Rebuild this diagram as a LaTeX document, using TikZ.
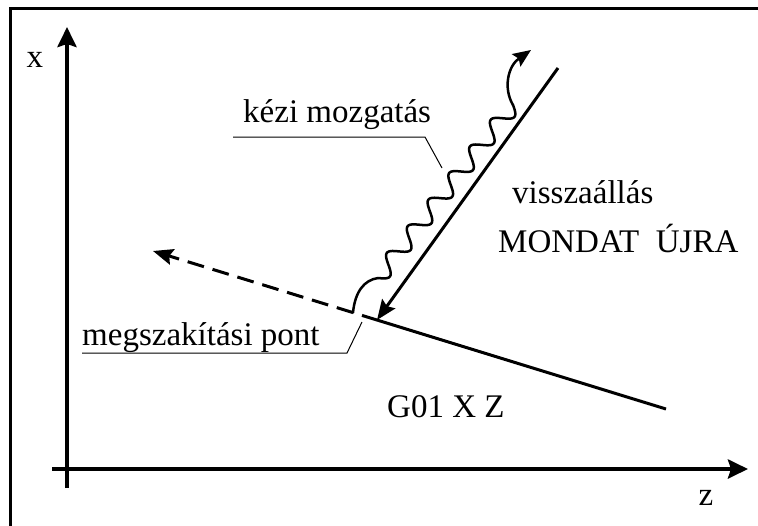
\documentclass[tikz,border=0pt]{standalone}
\usepackage{fontspec}
\setmainfont{Liberation Serif}
\usetikzlibrary{arrows.meta}
\begin{document}
\begin{tikzpicture}[x=1pt,y=-1pt,
  font=\fontsize{33}{40}\selectfont,
  lbl/.style={inner sep=0pt, anchor=base west},
  axisline/.style={line width=4pt, -{Stealth[length=20pt,width=19pt,inset=3pt]}},
  pathline/.style={line width=3pt},
  headline/.style={line width=3pt, -{Stealth[length=20pt,width=16pt,inset=3pt]}},
  leader/.style={line width=1pt},
  wavy/.style={line width=2.5pt, line join=round, line cap=round}]
\useasboundingbox (0,0) rectangle (758,525);
% frame
\draw[line width=3pt] (10,535) -- (10,8) -- (770,8);
% axes
\coordinate (xo) at (67,488);
\coordinate (xt) at (67,27);
\coordinate (zo) at (52,469);
\coordinate (zt) at (748,469);
\draw[axisline] (xo) -- (xt);
\draw[axisline] (zo) -- (zt);
\node[inner sep=0pt, anchor=base] (xl) at (35,67) {x};
\node[inner sep=0pt, anchor=base] (zl) at (706,505) {z};
% G01 path
\coordinate (S) at (362,315.4);
\coordinate (E) at (666,409);
\coordinate (D0) at (353,312.6);
\coordinate (D1) at (153,251);
\coordinate (A) at (558,68);
\coordinate (P) at (377,320);
\draw[pathline] (S) -- (E);
\draw[headline, dash pattern=on 17pt off 9pt] (D0) -- (D1);
\draw[headline] (A) -- (P);
% manual move (wavy)
\coordinate (W0) at (378,278);
\coordinate (W1) at (513,105);
\coordinate (T) at (531,50);
\draw[wavy] (D0) .. controls (355,292) and (364,280) .. (W0);
\draw[wavy] plot[domain=0:219, samples=220, smooth]
  ({378+0.6164*\x+6.7*sin(10.6825*\x)}, {278-0.79*\x+5.2*sin(10.6825*\x)});
\draw[wavy, -{Stealth[length=18pt,width=15pt,inset=3pt]}] (W1) .. controls (503,88) and (508,66) .. (T);
% labels
\node[lbl] (km) at (243,122) {kézi mozgatás};
\draw[leader] (233,137) -- (425,137) -- (442,168);
\node[lbl] (vi) at (512,203) {visszaállás};
\node[lbl] (mu) at (498,252) {MONDAT\hspace{0.5em}ÚJRA};
\node[lbl] (mp) at (82,345) {megszakítási pont};
\draw[leader] (82,353) -- (347,353) -- (362,322);
\node[lbl] (g) at (387,417) {G01 X Z};
\end{tikzpicture}
\end{document}
